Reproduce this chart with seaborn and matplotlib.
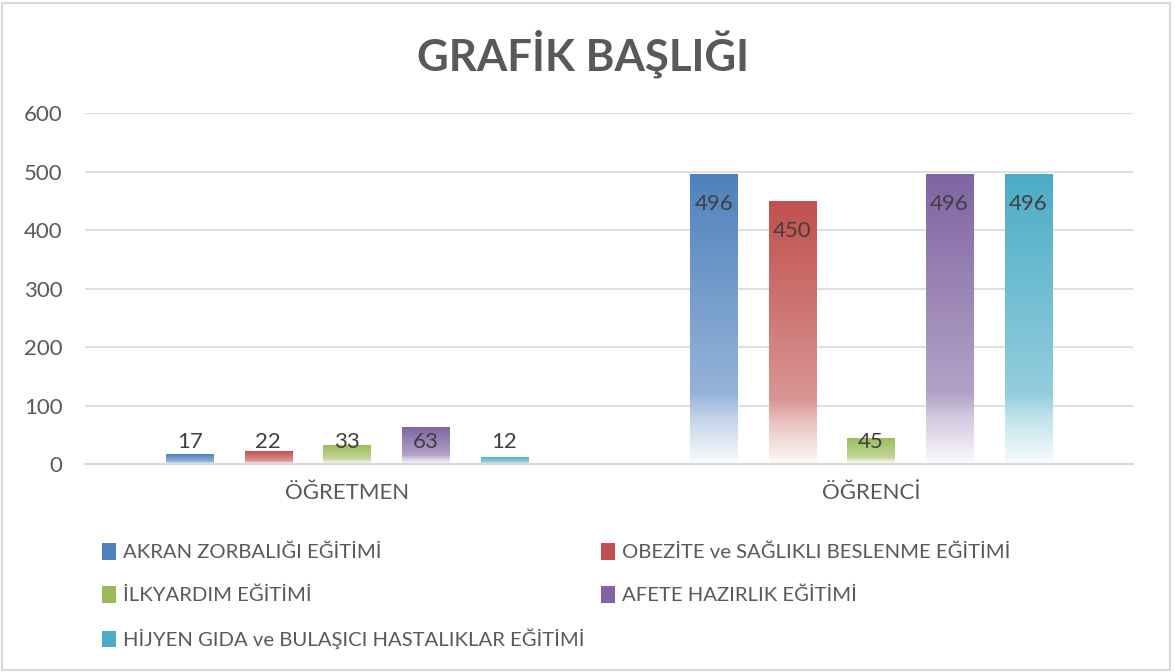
import numpy as np
import pandas as pd
import seaborn as sns
import matplotlib.pyplot as plt
from matplotlib.patches import Rectangle, Patch
from matplotlib.colors import to_rgb

# ---- data ----
categories = ["ÖĞRETMEN", "ÖĞRENCİ"]
series = [
    "AKRAN ZORBALIĞI EĞİTİMİ",
    "OBEZİTE ve SAĞLIKLI BESLENME EĞİTİMİ",
    "İLKYARDIM EĞİTİMİ",
    "AFETE HAZIRLIK EĞİTİMİ",
    "HİJYEN GIDA ve BULAŞICI HASTALIKLAR EĞİTİMİ",
]
akran = [17, 496]
obezite = [22, 450]
ilkyardim = [33, 45]
afete = [63, 496]
hijyen = [12, 496]
values = [akran, obezite, ilkyardim, afete, hijyen]
colors = ["#4F81BD", "#C0504D", "#9BBB59", "#8064A2", "#4BACC6"]
yticks = [0, 100, 200, 300, 400, 500, 600]
title = "GRAFİK BAŞLIĞI"

rows = []
for s, vals in zip(series, values):
    for c, v in zip(categories, vals):
        rows.append({"Kategori": c, "Seri": s, "Değer": v})
df = pd.DataFrame(rows)

sns.set_theme(style="white")
plt.rcParams['font.family'] = ['Lato', 'DejaVu Sans']

fig = plt.figure(figsize=(11.75, 6.72), dpi=100)
ax = fig.add_axes([0.0723, 0.3095, 0.892, 0.5223])

sns.barplot(data=df, x="Kategori", y="Değer", hue="Seri", hue_order=series,
            order=categories, palette=colors, width=0.75, gap=0.4,
            legend=False, ax=ax, zorder=2, errorbar=None)

ax.set_xlim(-0.5, 1.5)
ax.set_ylim(0, 600)
ax.set_yticks(yticks)
ax.set_yticklabels([str(t) for t in yticks])
ax.yaxis.grid(True, color="#D9D9D9", lw=1.2, zorder=0)
ax.set_axisbelow(True)
for side in ["left", "right", "top"]:
    ax.spines[side].set_visible(False)
ax.spines["bottom"].set_color("#D9D9D9")
ax.spines["bottom"].set_linewidth(1.5)
ax.tick_params(axis="y", length=0, labelsize=16, labelcolor="#595959", pad=16)
ax.tick_params(axis="x", length=0, labelsize=16, labelcolor="#595959", pad=14)
ax.set_xlabel("")
ax.set_ylabel("")

# gradient fill
N = 256
t = np.linspace(0, 1, N)
alpha = np.interp(t, [0, 0.76, 0.84, 1.0], [1.0, 0.6, 0.35, 0.03])

def grad_img(col):
    c = np.array(to_rgb(col))
    img = (1 - alpha[:, None]) * 1.0 + alpha[:, None] * c[None, :]
    return img[:, None, :]

for i, cont in enumerate(ax.containers):
    img = grad_img(colors[i])
    for bar, v in zip(cont, values[i]):
        x0 = bar.get_x()
        w = bar.get_width()
        h = bar.get_height()
        im = ax.imshow(img, extent=(x0, x0 + w, 0, h), aspect="auto",
                       origin="upper", zorder=2.5, interpolation="bilinear")
        im.set_clip_path(bar)
        bar.set_facecolor("none")
        bar.set_edgecolor("none")
        ypos = max(v - 51, 38)
        ax.text(x0 + w / 2, ypos, str(v), ha="center", va="center",
                fontsize=16, color="#404040", zorder=4)

ax.set_xlim(-0.5, 1.5)
ax.set_ylim(0, 600)

# title
fig.text(0.496, 0.92, title, ha="center", va="center", fontsize=31.5,
         fontweight="bold", color="#595959")

# legend (row-wise order)
handles = [Patch(facecolor=c, edgecolor="none") for c in colors]
order = [0, 2, 4, 1, 3]
leg = fig.legend([handles[k] for k in order], [series[k] for k in order],
                 ncol=2, loc="upper left", bbox_to_anchor=(0.080, 0.204),
                 frameon=False, fontsize=14.6, labelcolor="#595959",
                 handlelength=0.7, handleheight=0.9, handletextpad=0.35,
                 labelspacing=1.2, columnspacing=0.8, borderaxespad=0)

fig.add_artist(Rectangle((0.002, 0.003), 0.994, 0.993, transform=fig.transFigure,
                         fill=False, ec="#D9D9D9", lw=1.5))

fig.savefig("out.png", dpi=100)
